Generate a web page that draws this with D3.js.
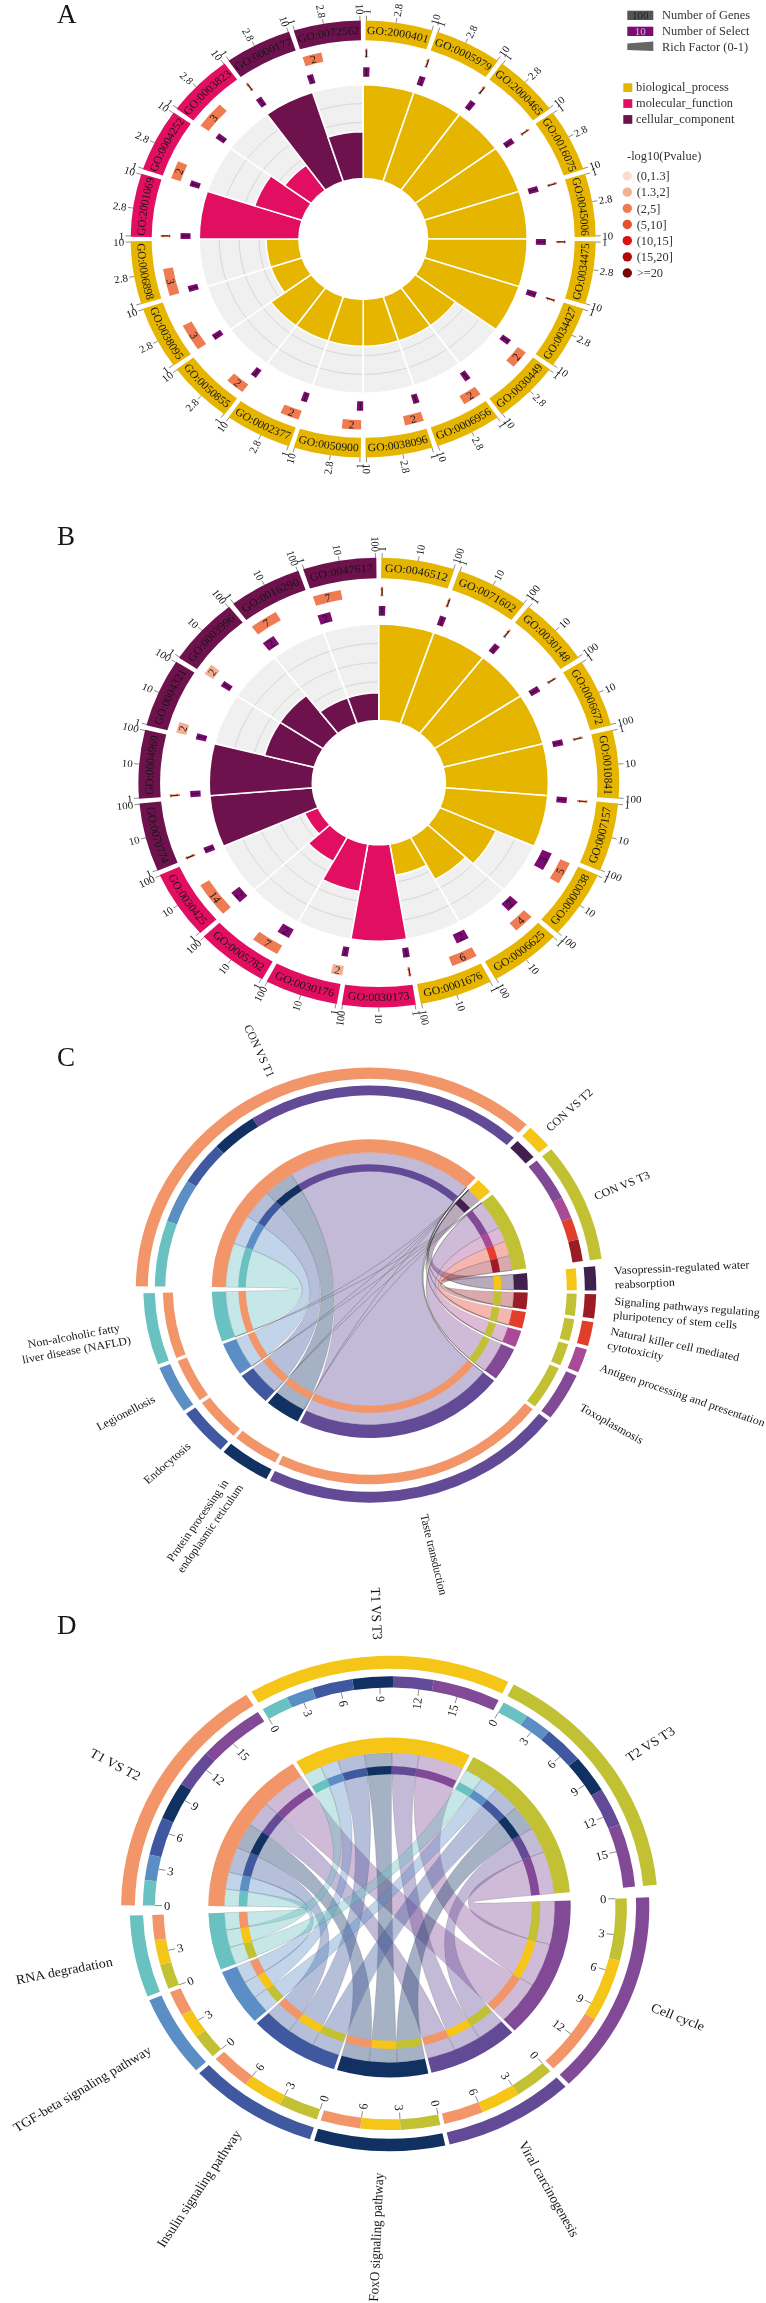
<!DOCTYPE html>
<html><head><meta charset="utf-8">
<script src="https://cdn.jsdelivr.net/npm/d3@7/dist/d3.min.js"></script>
<style>html,body{margin:0;padding:0;background:#fff}svg{display:block;filter:blur(.35px)}text{font-family:"Liberation Serif","Times New Roman",serif;fill:#161616}</style>
</head><body>
<script>
// ---------- data : panel A ----------
const goA = ["GO:2000401","GO:0005979","GO:2000465","GO:0016075","GO:0045006","GO:0034475","GO:0034427","GO:0030449","GO:0006956","GO:0038096","GO:0050900","GO:0002377","GO:0050855","GO:0038095","GO:0006898","GO:2001069","GO:0004252","GO:0003823","GO:0000177","GO:0072562"];
const groupA = [0,0,0,0,0,0,0,0,0,0,0,0,0,0,0,1,1,1,2,2];
const genesA = [1,1,1,1,1,1,1,2,2,2,2,2,2,3,3,1,2,3,1,2];
const selectA = [1,1,1,1,1,1,1,1,1,1,1,1,1,1,1,1,1,1,1,1];
const richA = [1,1,1,1,1,1,1,.5,.5,.5,.5,.5,.5,.33,.33,1,.5,.33,1,.5];
const pClassA = [2,2,2,2,2,2,2,2,2,2,2,2,2,2,2,2,2,2,2,2];
const ticksA = [1,2.8,10];
// ---------- data : panel B ----------
const goB = ["GO:0046512","GO:0071602","GO:0030148","GO:0006672","GO:0010841","GO:0007157","GO:0000038","GO:0006625","GO:0001676","GO:0030173","GO:0030176","GO:0005782","GO:0030425","GO:0070774","GO:0004969","GO:0004321","GO:0003996","GO:0016290","GO:0047617"];
const groupB = [0,0,0,0,0,0,0,0,0,1,1,1,1,2,2,2,2,2,2];
const genesB = [1,1,1,1,1,1,5,4,6,1,2,7,14,1,1,2,2,7,7];
const selectB = [1,1,1,1,1,1,3,2,2,1,1,2,2,1,1,1,1,2,2];
const richB = [1,1,1,1,1,1,.6,.5,.33,1,.5,.286,.143,1,1,.5,.5,.286,.286];
const pClassB = [2,2,2,2,2,2,2,2,2,2,1,2,2,2,2,1,1,2,2];
const ticksB = [1,10,100];
// ---------- data : panel C ----------
const upperC = ["CON VS T1","CON VS T2","CON VS T3"];
const lowerC = [["Vasopressin-regulated water","reabsorption"],["Signaling pathways regulating","pluripotency of stem cells"],["Natural killer cell mediated","cytotoxicity"],["Antigen processing and presentation"],["Toxoplasmosis"],["Taste transduction"],["Protein processing in","endoplasmic reticulum"],["Endocytosis"],["Legionellosis"],["Non-alcoholic fatty","liver disease (NAFLD)"]];
const conT1 = [0,0,0,0,0,12,2,2,2,3];
const conT2 = [1,0,0,0,0,0,0,0,0,0];
const conT3 = [0,1,1,1,2,0,0,0,0,0];
// ---------- data : panel D ----------
const upperD = ["T1 VS T2","T1 VS T3","T2 VS T3"];
const lowerD = [["Cell cycle"],["Viral carcinogenesis"],["FoxO signaling pathway"],["Insulin signaling pathway"],["TGF-beta signaling pathway"],["RNA degradation"]];
const t1t2 = [5,3,3,3,2,2];
const t1t3 = [5,3,3,3,2,2];
const t2t3 = [5,3,3,3,2,2];
// ---------- legends ----------
const legendGroups = ["biological_process","molecular_function","cellular_component"];
const pLabels = ["(0,1.3]","(1.3,2]","(2,5]","(5,10]","(10,15]","(15,20]",">=20"];
// ---------- styles ----------
const groupColors = ["#E5B500","#E20E62","#6E124E"];
const pColors = ["#FBDDD0","#F5B093","#EE7B52","#E8502A","#DD1010","#B40808","#7A0505"];
const selectColor = "#7E0A72";
const upperColorsAll = ["#F2966A","#F5C518","#C1C133"];
const lowerColorsC = ["#41204F","#9B1C24","#E23E2C","#A84A96","#824A96","#624A96","#123163","#3F589F","#5B8EC4","#6AC1C1"];
const lowerColorsD = ["#824A96","#624A96","#123163","#3F589F","#5B8EC4","#6AC1C1"];

const svg = d3.select("body").append("svg").attr("width",766).attr("height",2303).attr("viewBox","0 0 766 2303");
const rad = d=>d*Math.PI/180;
const arcGen = d3.arc();
const sector = (r0,r1,a0,a1)=>arcGen({innerRadius:r0,outerRadius:r1,startAngle:rad(a0),endAngle:rad(a1)});
const norm = a=>((a%360)+360)%360;

// radial text : outward on right half, inward on left half
function radial(g,a,r,txt,size){
  const left = norm(a)>180;
  return g.append("text")
    .attr("transform",`rotate(${a}) translate(0,${-r}) rotate(${left?90:-90})`)
    .attr("text-anchor",left?"end":"start").attr("dy","0.35em")
    .attr("font-size",size).text(txt);
}

// ---------- circular GO enrichment plots ----------
function goPlot(cfg){
  const {id,cx,cy,k,s,go,group,genes,select,rich,pClass,ticks} = cfg;
  const R = {hole:64.3*s,grey:164*s,selIn:172.7*s,selOut:182.7*s,genIn:192.7*s,genOut:202.7*s,ringIn:211.5*s,ringOut:232.5*s};
  const g = svg.append("g").attr("transform",`translate(${cx},${cy}) scale(1,${k})`);
  const angle = d3.scaleLinear().domain([0,go.length]).range([0,360]);
  const width = angle(1)-angle(0), pad = .6;
  const rScale = d3.scaleLinear().domain([0,1]).range([R.hole,R.grey]);
  const geneW = d3.scaleLog().domain(d3.extent(ticks)).range([.6,width-1.2]);
  const selW = d3.scaleLinear().domain([0,10]).range([0,20]);
  const idx = d3.range(go.length);
  // background
  g.append("g").selectAll("path").data(idx).join("path")
    .attr("d",i=>sector(R.hole,R.grey,angle(i),angle(i+1))).attr("fill","#F0F0F0");
  g.append("g").selectAll("circle").data([.2,.4,.6,.8]).join("circle")
    .attr("r",d=>rScale(d)).attr("fill","none").attr("stroke","#c9c9c9").attr("stroke-width",.7);
  g.append("g").selectAll("path").data(idx).join("path")
    .attr("d",i=>sector(R.hole,R.grey,angle(i),angle(i+1))).attr("fill","none").attr("stroke","#fff").attr("stroke-width",1.6);
  // rich factor bars
  g.append("g").selectAll("path").data(idx).join("path")
    .attr("d",i=>sector(R.hole,rScale(rich[i]),angle(i),angle(i+1)))
    .attr("fill",i=>groupColors[group[i]]).attr("stroke","#fff").attr("stroke-width",1.6);
  // select bars
  const sel = g.append("g");
  sel.selectAll("path").data(idx).join("path")
    .attr("d",i=>sector(R.selIn,R.selOut,angle(i),angle(i)+selW(select[i]))).attr("fill",selectColor);
  // gene bars
  const gen = g.append("g");
  gen.selectAll("path").data(idx).join("path")
    .attr("d",i=>sector(R.genIn,R.genOut,angle(i)+pad,angle(i)+pad+geneW(genes[i])))
    .attr("fill",i=>pColors[pClass[i]]);
  // value labels on bars
  const tang = (g0,a,r,t)=>{
    const flip = norm(a)>90 && norm(a)<270;
    g0.append("text").attr("transform",`rotate(${a}) translate(0,${-r}) rotate(${flip?180:0})`)
      .attr("text-anchor","middle").attr("dy","0.35em").attr("font-size",11.5).text(t);
  };
  idx.forEach(i=>{
    tang(sel,angle(i)+selW(select[i])/2,(R.selIn+R.selOut)/2,select[i]);
    tang(gen,angle(i)+pad+geneW(genes[i])/2,(R.genIn+R.genOut)/2,genes[i]);
  });
  // outer ring
  g.append("g").selectAll("path").data(idx).join("path")
    .attr("d",i=>sector(R.ringIn,R.ringOut,angle(i)+pad,angle(i+1)-pad))
    .attr("fill",i=>groupColors[group[i]]);
  // ring labels on circular paths
  const defs = svg.append("defs");
  const rMid = (R.ringIn+R.ringOut)/2, fs = 11.8*Math.sqrt(s);
  idx.forEach(i=>{
    const m = angle(i)+width/2, flip = m>90 && m<270;
    const rp = flip ? rMid+fs*.33 : rMid-fs*.33;
    const pt = a=>[rp*Math.sin(rad(a)),-rp*Math.cos(rad(a))];
    const aS = flip?m+width*.55:m-width*.55, aE = flip?m-width*.55:m+width*.55;
    const [x0,y0]=pt(aS),[x1,y1]=pt(aE);
    defs.append("path").attr("id",`${id}p${i}`).attr("d",`M${x0},${y0}A${rp},${rp} 0 0 ${flip?0:1} ${x1},${y1}`);
    g.append("text").attr("font-size",fs).attr("text-anchor","middle")
      .append("textPath").attr("href",`#${id}p${i}`).attr("startOffset","50%").text(go[i]);
  });
  // log ticks on each sector
  const tg = g.append("g");
  idx.forEach(i=>{
    const ts = d3.scaleLog().domain(d3.extent(ticks)).range([angle(i)+pad+.2,angle(i+1)-pad-.2]);
    ticks.forEach(t=>{
      const a = ts(t);
      tg.append("path").attr("d",d3.lineRadial()([[rad(a),R.ringOut],[rad(a),R.ringOut+5]])).attr("stroke","#555").attr("stroke-width",.7);
      radial(tg,a,R.ringOut+6.5,t,11);
    });
  });
}
goPlot({id:"a",cx:363.2,cy:239,k:.94,s:1,go:goA,group:groupA,genes:genesA,select:selectA,rich:richA,pClass:pClassA,ticks:ticksA});
goPlot({id:"b",cx:378.8,cy:782.6,k:.935,s:1.034,go:goB,group:groupB,genes:genesB,select:selectB,rich:richB,pClass:pClassB,ticks:ticksB});

// ---------- legend of A ----------
const lg = svg.append("g");
lg.append("rect").attr("x",627.3).attr("y",10.7).attr("width",26).attr("height",9.3).attr("fill","#555");
lg.append("text").attr("x",640.3).attr("y",19).attr("text-anchor","middle").attr("font-size",11).style("fill","#222").text("100");
lg.append("rect").attr("x",627.3).attr("y",26.7).attr("width",26).attr("height",9.3).attr("fill",selectColor);
lg.append("text").attr("x",640.3).attr("y",35).attr("text-anchor","middle").attr("font-size",11).style("fill","#d8b8d8").text("10");
lg.append("path").attr("d","M627.3,43.5L653.3,41.5V51L627.3,50Z").attr("fill","#666");
[["Number of Genes",18.6],["Number of Select",34.6],["Rich Factor (0-1)",50.6]].forEach(([t,y])=>
  lg.append("text").attr("x",662).attr("y",y).attr("font-size",12.4).style("fill","#333").text(t));
legendGroups.forEach((t,i)=>{
  const y=83.3+i*15.9;
  lg.append("rect").attr("x",623.3).attr("y",y).attr("width",9).attr("height",8.7).attr("fill",groupColors[i]);
  lg.append("text").attr("x",636).attr("y",y+8).attr("font-size",12.4).style("fill","#333").text(t);
});
lg.append("text").attr("x",627).attr("y",160).attr("font-size",12.4).style("fill","#333").text("-log10(Pvalue)");
const pY = d3.scaleLinear().domain([0,6]).range([176,273]);
pLabels.forEach((t,i)=>{
  lg.append("circle").attr("cx",627.3).attr("cy",pY(i)).attr("r",4.7).attr("fill",pColors[i]);
  lg.append("text").attr("x",636.7).attr("y",pY(i)+4.3).attr("font-size",12.4).style("fill","#333").text(t);
});

// ---------- chord diagrams ----------
function chordPlot(cfg){
  const {cx,cy,k,s,upper,lower,matrix,lowerColors,uStart,uUnit,uGap,lStart,lUnit,lGap,tickStep,labelSize,upR,lowR} = cfg;
  const g = svg.append("g").attr("transform",`translate(${cx},${cy}) scale(1,${k})`);
  const upperColors = upperColorsAll;
  const Rr = {uo:[222*s,234*s],uo2:[204.5*s,215*s],lo:[215*s,226.5*s],lo2:[197*s,207*s],ring:[144*s,158*s],ring2:[124*s,131.5*s]};
  const uTot = matrix.map(r=>d3.sum(r));
  const lTot = lower.map((_,j)=>d3.sum(matrix,r=>r[j]));
  // sector layout
  let a = uStart;
  const uSec = uTot.map(t=>{const o=[a,a+t*uUnit];a=o[1]+uGap;return o;});
  a = lStart;
  const lSec = lTot.map(t=>{const o=[a,a+t*lUnit];a=o[1]+lGap;return o;});
  // flow segments: empty pairs stay in the layout as zero-width hairlines
  const lCursor = lSec.map(d=>d[0]);
  const flows = [];
  const uOrder = d3.range(upper.length), lOrder = d3.range(lower.length).reverse();
  const pos = new Map();
  uOrder.forEach(i=>{
    let c = uSec[i][0];
    lOrder.forEach(j=>{ pos.set(i+"-"+j,[c,c+matrix[i][j]*uUnit]); c+=matrix[i][j]*uUnit; });
  });
  d3.range(lower.length).forEach(j=>{
    [...uOrder].reverse().forEach(i=>{
      const span=[lCursor[j],lCursor[j]+matrix[i][j]*lUnit]; lCursor[j]=span[1];
      flows.push({i,j,u:pos.get(i+"-"+j),l:span,v:matrix[i][j]});
    });
  });
  // ribbons
  const ribbon = d3.ribbon().radius(Rr.ring[0]);
  g.append("g").selectAll("path").data(flows).join("path")
    .attr("d",f=>ribbon({source:{startAngle:rad(f.u[0]),endAngle:rad(f.u[1])},target:{startAngle:rad(f.l[0]),endAngle:rad(f.l[1])}}))
    .attr("fill",f=>lowerColors[f.j]).attr("fill-opacity",f=>f.v?.38:0)
    .attr("stroke","#444").attr("stroke-opacity",.45).attr("stroke-width",.4);
  const draw = (data,R,ang,color)=>g.append("g").selectAll("path").data(data).join("path")
    .attr("d",d=>sector(R[0],R[1],ang(d)[0],ang(d)[1])).attr("fill",color);
  // inner and outer own-colour rings
  const uIdx=d3.range(upper.length), lIdx=d3.range(lower.length);
  draw(uIdx,Rr.ring,i=>uSec[i],i=>upperColors[i]);
  draw(lIdx,Rr.ring,j=>lSec[j],j=>lowerColors[j]);
  draw(uIdx,Rr.uo,i=>uSec[i],i=>upperColors[i]);
  draw(lIdx,Rr.lo,j=>lSec[j],j=>lowerColors[j]);
  // partner-colour rings
  const real = flows.filter(f=>f.v>0);
  draw(real,Rr.ring2,f=>f.u,f=>lowerColors[f.j]);
  draw(real,Rr.ring2,f=>f.l,f=>upperColors[f.i]);
  draw(real,Rr.uo2,f=>f.u,f=>lowerColors[f.j]);
  draw(real,Rr.lo2,f=>f.l,f=>upperColors[f.i]);
  // ticks
  if(tickStep){
    const tk = g.append("g");
    const ticker = (sec,tot,unit,rIn)=>{
      d3.range(0,tot,tickStep).forEach(v=>{
        const sc = d3.scaleLinear().domain([0,tot]).range([sec[0],sec[0]+tot*unit]);
        const an = sc(v);
        tk.append("path").attr("d",d3.lineRadial()([[rad(an),rIn],[rad(an),rIn-7]])).attr("stroke","#555").attr("stroke-width",.7);
        const left = norm(an)>180;
        tk.append("text").attr("transform",`rotate(${an}) translate(0,${-(rIn-9)}) rotate(${left?90:-90})`)
          .attr("text-anchor",left?"start":"end").attr("dy","0.35em").attr("font-size",12.5).text(v);
      });
    };
    uIdx.forEach(i=>ticker(uSec[i],uTot[i],uUnit,Rr.uo2[0]));
    lIdx.forEach(j=>ticker(lSec[j],lTot[j],lUnit,Rr.lo2[0]));
  }
  // sector names
  const tg = g.append("g");
  uIdx.forEach(i=>radial(tg,(uSec[i][0]+uSec[i][1])/2,upR,upper[i],labelSize));
  lIdx.forEach(j=>{
    const m=(lSec[j][0]+lSec[j][1])/2, left=norm(m)>180, lines=lower[j];
    if(lines.length===1){ radial(tg,m,lowR,lines[0],labelSize); return; }
    const block = tg.append("g").attr("transform",`rotate(${m}) translate(0,${-lowR}) rotate(${left?90:-90})`);
    const ts = lines.map((t,n)=>block.append("text").attr("font-size",labelSize)
      .attr("y",(n-(lines.length-1)/2)*15).attr("dy","0.35em").text(t));
    if(left){
      const w = d3.max(ts,t=>t.node().getComputedTextLength());
      ts.forEach(t=>t.attr("text-anchor","middle").attr("x",-w/2));
    }
  });
}
chordPlot({cx:369.8,cy:1288.6,k:.945,s:1,upper:upperC,lower:lowerC,matrix:[conT1,conT2,conT3],lowerColors:lowerColorsC,
  uStart:270.6,uUnit:6.26,uGap:1.3,lStart:84,lUnit:6.51,lGap:1,tickStep:0,labelSize:12,upR:245,lowR:245});
chordPlot({cx:389.5,cy:1907.5,k:.9376,s:1.147,upper:upperD,lower:lowerD,matrix:[t1t2,t1t3,t2t3],lowerColors:lowerColorsD,
  uStart:270.5,uUnit:3.18,uGap:1.3,lStart:87.6,lUnit:3.25,lGap:1,tickStep:3,labelSize:14,upR:286,lowR:283});

// ---------- panel letters ----------
const letters = ["A","B","C","D"], letterY = [22.7,545,1066,1634];
letters.forEach((t,i)=>svg.append("text").attr("x",57).attr("y",letterY[i]).attr("font-size",27).text(t));
</script>
</body></html>
